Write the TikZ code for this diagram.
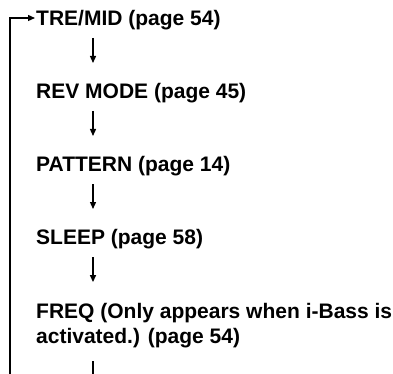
\documentclass[tikz,border=0pt]{standalone}
\usepackage{fontspec}
\setmainfont{Liberation Sans}
\usetikzlibrary{arrows.meta}
\usetikzlibrary{positioning}

\begin{document}
\begin{tikzpicture}[x=1pt, y=-1pt, >={Triangle[length=7pt,width=6pt]}]

		% Styles
		\tikzset{
			item/.style={
				inner sep=0pt, align=left, anchor=base west,
				font=\fontsize{21}{25}\selectfont\bfseries
			},
			flow/.style={->, line width=1.3pt},
			loopline/.style={line width=1.3pt}
		}

		\useasboundingbox (0,0) rectangle (393,374);

		% Nodes
		\node[item] (tre) at (36,25.5) {TRE/MID (page 54)};

		\node[item, below=73pt of tre.base west, anchor=base west] (rev)
		{REV MODE (page 45)};

		\node[item, below=73pt of rev.base west, anchor=base west] (pat)
		{PATTERN (page 14)};

		\node[item, below=73pt of pat.base west, anchor=base west] (sleep)
		{SLEEP (page 58)};

		% base of a two-line node is its last line
		\node[item, below=99pt of sleep.base west, anchor=base west] (freq)
		{FREQ (Only appears when i-Bass is\\activated.) (page 54)};

		% Column and loop ends
		\coordinate (col) at (93,0);
		\coordinate (bot) at (93,374);
		\coordinate (back) at (10,374);

		% Arrows
		\draw[flow] ([yshift=-12.5pt]tre.base -| col) -- ([yshift=35.5pt]rev.base -| col);
		\draw[flow] ([yshift=-12.5pt]rev.base -| col) -- ([yshift=35.5pt]pat.base -| col);
		\draw[flow] ([yshift=-12.5pt]pat.base -| col) -- ([yshift=35.5pt]sleep.base -| col);
		\draw[flow] ([yshift=-12.5pt]sleep.base -| col) -- ([yshift=21pt]freq.north -| col);
		\draw[loopline] ([yshift=-13pt]freq.south -| col) -- (bot);

		% Back to the top
		\draw[flow, shorten >=1pt] (back) |- ([yshift=7.5pt]tre.base west);

\end{tikzpicture}
\end{document}
